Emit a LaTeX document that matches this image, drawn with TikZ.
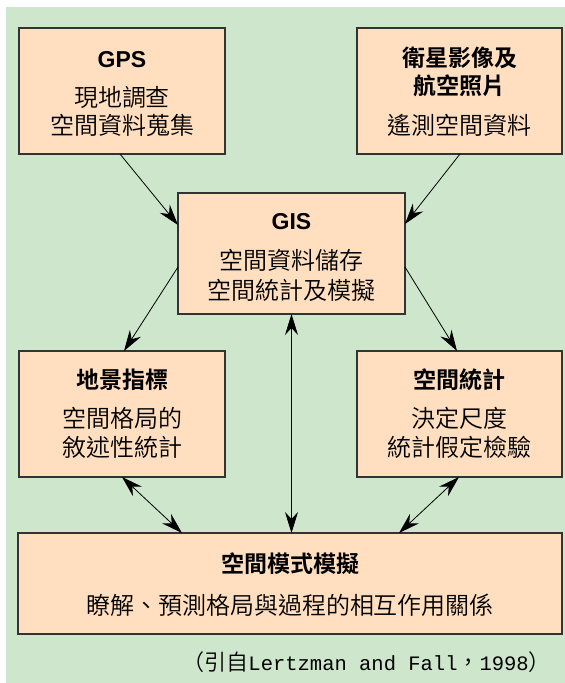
\documentclass[tikz,border=0pt]{standalone}
\usepackage{fontspec}
\setmainfont{Liberation Sans}
\newfontfamily\cjk{Noto Sans CJK TC DemiLight}
\newfontfamily\cjkb{Noto Sans CJK TC Bold}
\newfontfamily\monof{Liberation Mono}
\usetikzlibrary{arrows.meta,calc}
\definecolor{bggreen}{HTML}{CDE6CC}
\definecolor{peach}{HTML}{FFDFBF}
\definecolor{edgegray}{HTML}{333333}
\begin{document}
\begin{tikzpicture}[x=1pt,y=-1pt,
  box/.style={draw=edgegray,line width=1.6pt,fill=peach,inner sep=0pt,outer sep=0pt,anchor=north west},
  ttl/.style={inner sep=0pt,font=\cjkb\fontsize{23}{27}\selectfont},
  lat/.style={inner sep=0pt,font=\bfseries\fontsize{23}{27}\selectfont},
  txt/.style={inner sep=0pt,font=\cjk\fontsize{24}{28}\selectfont},
  conn/.style={line width=0.8pt,black,-{Stealth[length=21pt,width=13pt,inset=7pt]}},
  dconn/.style={line width=0.8pt,black,{Stealth[length=21pt,width=13pt,inset=7pt]}-{Stealth[length=21pt,width=13pt,inset=7pt]}}]
\useasboundingbox (0,0) rectangle (565,683);
\fill[white] (0,0) rectangle (565,683);
\fill[bggreen] (6,7) rectangle (565,683);
% boxes
\node[box,minimum width=206pt,minimum height=126pt] (gps) at (19,28) {};
\node[box,minimum width=205pt,minimum height=126pt] (sat) at (357,28) {};
\node[box,minimum width=227pt,minimum height=121pt] (gis) at (178,193) {};
\node[box,minimum width=206pt,minimum height=126pt] (lm) at (19,351) {};
\node[box,minimum width=205pt,minimum height=126pt] (rm) at (357,351) {};
\node[box,minimum width=544pt,minimum height=101pt] (bot) at (18,533) {};
% texts
\node[lat] (gpsT) at ($(gps.north)+(0,32)$) {GPS};
\node[txt] (gpsA) at ($(gps.north)+(0,69)$) {現地調查};
\node[txt] (gpsB) at ($(gps.north)+(0,97)$) {空間資料蒐集};
\node[ttl] (satT) at ($(sat.north)+(0,30)$) {衛星影像及};
\node[ttl] (satU) at ($(sat.north)+(0,58)$) {航空照片};
\node[txt] (satA) at ($(sat.north)+(0,97)$) {遙測空間資料};
\node[lat] (gisT) at ($(gis.north)+(0,29)$) {GIS};
\node[txt] (gisA) at ($(gis.north)+(0,67)$) {空間資料儲存};
\node[txt] (gisB) at ($(gis.north)+(0,97)$) {空間統計及模擬};
\node[ttl] (lmT) at ($(lm.north)+(0,29)$) {地景指標};
\node[txt] (lmA) at ($(lm.north)+(0,67)$) {空間格局的};
\node[txt] (lmB) at ($(lm.north)+(0,96)$) {敘述性統計};
\node[ttl] (rmT) at ($(rm.north)+(0,29)$) {空間統計};
\node[txt] (rmA) at ($(rm.north)+(0,67)$) {決定尺度};
\node[txt] (rmB) at ($(rm.north)+(0,96)$) {統計假定檢驗};
\node[ttl] (botT) at ($(bot.north)+(0,31)$) {空間模式模擬};
\node[txt] (botA) at ($(bot.north)+(0,72)$) {瞭解、預測格局與過程的相互作用關係};
\node[inner sep=0pt,anchor=east] (cite) at (551,662)
  {{\cjk\fontsize{22}{24}\selectfont （引自}{\monof\fontsize{20.5}{24}\selectfont Lertzman and Fall}{\cjk\fontsize{22}{24}\selectfont ，}{\monof\fontsize{20.5}{24}\selectfont 1998}{\cjk\fontsize{22}{24}\selectfont ）}};
% connectors
\draw[conn] ($(gps.south west)+(101,0)$) -- ($(gis.north west)+(0,32)$);
\draw[conn] ($(sat.south east)+(-102,0)$) -- ($(gis.north east)+(0,31)$);
\draw[conn] ($(gis.north west)+(0,74)$) -- ($(lm.north west)+(105,0)$);
\draw[conn] ($(gis.north east)+(0,74)$) -- ($(rm.north east)+(-105,0)$);
\draw[dconn] (gis.south) -- (gis.south |- bot.north);
\draw[dconn] ($(lm.south west)+(103,0)$) -- ($(bot.north west)+(164,0)$);
\draw[dconn] ($(rm.south east)+(-103,0)$) -- ($(bot.north east)+(-163,0)$);
\end{tikzpicture}
\end{document}
